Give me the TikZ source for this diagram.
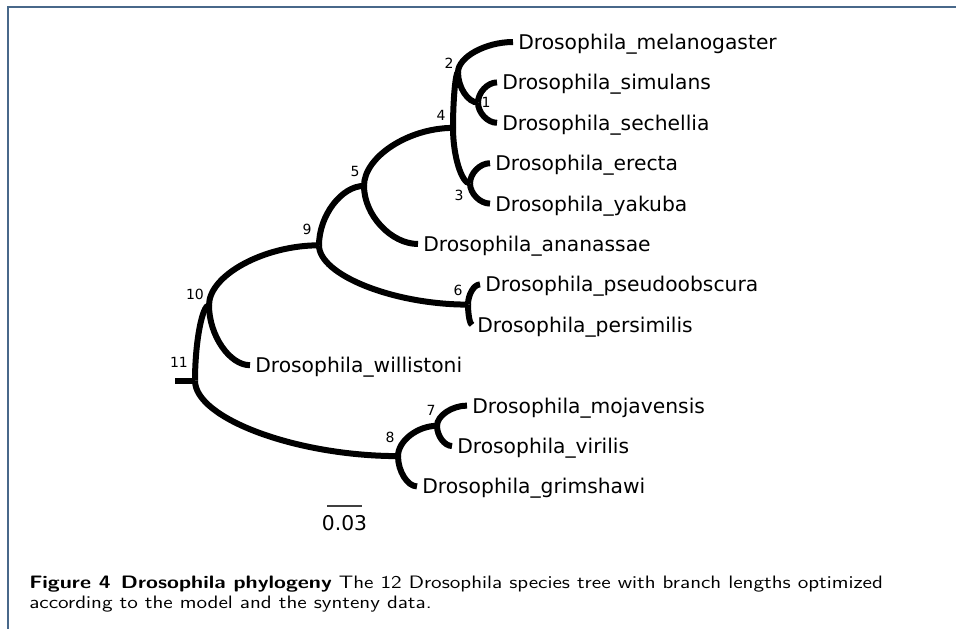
\documentclass[tikz,border=0pt]{standalone}
\usepackage{fontspec}
\usepackage{graphicx}
\newfontfamily\treefont{DejaVu Sans}
\usetikzlibrary{calc}
\definecolor{framecol}{RGB}{72,104,138}
\tikzset{
  branch/.style={line width=4.5pt, line cap=butt, black},
  leaflab/.style={anchor=base west, inner sep=0pt, font=\treefont\fontsize{15.2}{18}\selectfont},
  numlab/.style={anchor=center, inner sep=0pt, font=\treefont\fontsize{10.5}{12}\selectfont},
  caplab/.style={anchor=base west, inner sep=0pt, font=\sffamily\fontsize{13.5}{16}\selectfont},
}
\newcommand\mybranch[2]{\draw[branch] (#1) .. controls ($(#1)!0.5!(#1 |- #2)$) and ($(#2)!0.5!(#1 |- #2)$) .. (#2);}
\begin{document}
\begin{tikzpicture}[x=0.75pt,y=-0.75pt]
\useasboundingbox (0,0) rectangle (956,629);
\fill[white] (0,0) rectangle (956,629);
% frame
\coordinate (ftr) at (956,7);
\coordinate (ftl) at (8,7);
\coordinate (fbl) at (8,629);
\draw[framecol, line width=1.2pt] (ftr) -- (ftl) -- (fbl);
% leaves
\coordinate (mel) at (513,42);
\coordinate (sim) at (497,82.4);
\coordinate (sec) at (497,122.8);
\coordinate (ere) at (490,163.2);
\coordinate (yak) at (490,203.6);
\coordinate (ana) at (418,244);
\coordinate (pse) at (480,284.4);
\coordinate (per) at (472,324.8);
\coordinate (wil) at (250,365.2);
\coordinate (moj) at (467,405.6);
\coordinate (vir) at (452,446);
\coordinate (gri) at (417,486.4);
% internal nodes
\coordinate (n1) at (478,102.6);
\coordinate (n2) at (458,72.3);
\coordinate (n3) at (470,183.4);
\coordinate (n4) at (453,127.9);
\coordinate (n5) at (364,185.9);
\coordinate (n6) at (468,304.6);
\coordinate (n9) at (319,245.3);
\coordinate (n10) at (209,305.2);
\coordinate (n7) at (437,425.8);
\coordinate (n8) at (398,456.1);
\coordinate (n11) at (195,380.7);
\coordinate (root) at (175,380.7);
% branches
\draw[branch] (root) -- (n11);
\mybranch{n11}{n10}
\mybranch{n11}{n8}
\mybranch{n10}{n9}
\mybranch{n10}{wil}
\mybranch{n9}{n5}
\mybranch{n9}{n6}
\mybranch{n5}{n4}
\mybranch{n5}{ana}
\mybranch{n4}{n2}
\mybranch{n4}{n3}
\mybranch{n2}{mel}
\mybranch{n2}{n1}
\mybranch{n1}{sim}
\mybranch{n1}{sec}
\mybranch{n3}{ere}
\mybranch{n3}{yak}
\mybranch{n6}{pse}
\mybranch{n6}{per}
\mybranch{n8}{n7}
\mybranch{n8}{gri}
\mybranch{n7}{moj}
\mybranch{n7}{vir}
% leaf labels
\node[leaflab] (tmel) at ($(mel)+(5,7.5)$) {Drosophila\_melanogaster};
\node[leaflab] (tsim) at ($(sim)+(5,7.5)$) {Drosophila\_simulans};
\node[leaflab] (tsec) at ($(sec)+(5,7.5)$) {Drosophila\_sechellia};
\node[leaflab] (tere) at ($(ere)+(5,7.5)$) {Drosophila\_erecta};
\node[leaflab] (tyak) at ($(yak)+(5,7.5)$) {Drosophila\_yakuba};
\node[leaflab] (tana) at ($(ana)+(5,7.5)$) {Drosophila\_ananassae};
\node[leaflab] (tpse) at ($(pse)+(5,7.5)$) {Drosophila\_pseudoobscura};
\node[leaflab] (tper) at ($(per)+(5,7.5)$) {Drosophila\_persimilis};
\node[leaflab] (twil) at ($(wil)+(5,7.5)$) {Drosophila\_willistoni};
\node[leaflab] (tmoj) at ($(moj)+(5,7.5)$) {Drosophila\_mojavensis};
\node[leaflab] (tvir) at ($(vir)+(5,7.5)$) {Drosophila\_virilis};
\node[leaflab] (tgri) at ($(gri)+(5,7.5)$) {Drosophila\_grimshawi};
% node numbers
\node[numlab] (l1) at (486,102) {1};
\node[numlab] (l2) at (449,63) {2};
\node[numlab] (l3) at (459,195) {3};
\node[numlab] (l4) at (441,115) {4};
\node[numlab] (l5) at (355,171) {5};
\node[numlab] (l6) at (458,290) {6};
\node[numlab] (l7) at (431,410) {7};
\node[numlab] (l8) at (390,437) {8};
\node[numlab] (l9) at (307,229) {9};
\node[numlab] (l10) at (195,294) {10};
\node[numlab] (l11) at (179,362) {11};
% scale bar
\coordinate (sb1) at (327,506);
\coordinate (sb2) at (362,506);
\draw[line width=0.9pt, black!75] (sb1) -- (sb2);
\node[leaflab, anchor=base] (sbl) at (344.5,530) {0.03};
% caption
\node[caplab] (cap1) at (29,588) {\scalebox{1.2}[1]{\textbf{Figure 4~\kern0.1em Drosophila phylogeny} The 12 Drosophila species tree with branch lengths optimized}};
\node[caplab] (cap2) at (29,608) {\scalebox{1.2}[1]{according to the model and the synteny data.}};
\end{tikzpicture}
\end{document}
